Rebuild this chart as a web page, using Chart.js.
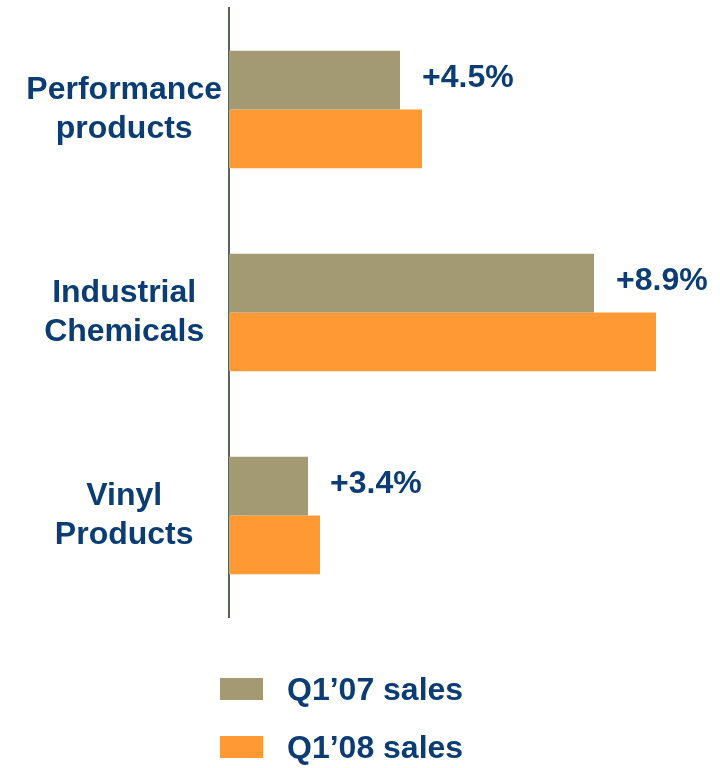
<!DOCTYPE html>
<html>
<head>
<meta charset="utf-8">
<script src="https://cdn.jsdelivr.net/npm/chart.js@4/dist/chart.umd.min.js"></script>
<style>
  html, body { margin: 0; padding: 0; background: #fff; }
  #wrap { width: 720px; height: 768px; }
</style>
</head>
<body>
<div id="wrap"><canvas id="myChart" width="720" height="768"></canvas></div>
<script>
// datos (unidades relativas, no hay eje visible)
const categorias = [['Performance', 'products'], ['Industrial', 'Chemicals'], ['Vinyl', 'Products']];
const ventasQ107 = [171, 365, 79];
const ventasQ108 = [193, 427, 91];
const crecimiento = ['+4.5%', '+8.9%', '+3.4%'];
const seriesNombres = ['Q1\u201907 sales', 'Q1\u201908 sales'];

const AZUL = '#0B3C74';
const OLIVA = '#A39972';
const NARANJA = '#FF9933';
const FUENTE = 'bold 32px "Liberation Sans", Arial, sans-serif';

// etiquetas de % junto a las barras Q1'07
const etiquetasPct = {
    id: 'etiquetasPct',
    afterDatasetsDraw(chart) {
        const ctx = chart.ctx;
        const meta = chart.getDatasetMeta(0);
        ctx.save();
        ctx.font = FUENTE;
        ctx.fillStyle = AZUL;
        ctx.textBaseline = 'middle';
        ctx.textAlign = 'left';
        meta.data.forEach((bar, i) => {
            ctx.fillText(crecimiento[i], bar.x + 22, bar.y - 2);
        });
        ctx.restore();
    }
};

// leyenda vertical abajo
const leyenda = {
    id: 'leyenda',
    afterDraw(chart) {
        const ctx = chart.ctx;
        const area = chart.chartArea;
        ctx.save();
        ctx.font = FUENTE;
        ctx.textBaseline = 'middle';
        ctx.textAlign = 'left';
        chart.data.datasets.forEach((ds, i) => {
            const y = area.bottom + 72 + i * 58;
            ctx.fillStyle = ds.backgroundColor;
            ctx.fillRect(area.left - 9, y - 11, 43, 22);
            ctx.fillStyle = AZUL;
            ctx.fillText(ds.label, area.left + 58, y + 2);
        });
        ctx.restore();
    }
};

const config = {
    type: 'bar',
    data: {
        labels: categorias,
        datasets: [
            { label: seriesNombres[0], data: ventasQ107, backgroundColor: OLIVA },
            { label: seriesNombres[1], data: ventasQ108, backgroundColor: NARANJA }
        ]
    },
    options: {
        indexAxis: 'y',
        responsive: false,
        animation: false,
        layout: { padding: { top: 8, bottom: 151, left: 0, right: 11 } },
        categoryPercentage: 0.58,
        barPercentage: 1.0,
        plugins: {
            legend: { display: false },
            tooltip: { enabled: false }
        },
        scales: {
            x: { display: false, min: 0, max: 480 },
            y: {
                afterFit(scale) {
                    scale.width = 229;
                    scale.paddingTop = 0;
                    scale.paddingBottom = 0;
                },
                grid: { display: false, drawTicks: false },
                border: { display: true, color: '#5A6450', width: 2 },
                ticks: {
                    crossAlign: 'center',
                    padding: 7,
                    color: AZUL,
                    font: { family: '"Liberation Sans", Arial, sans-serif', size: 32, weight: 'bold' }
                }
            }
        }
    },
    plugins: [etiquetasPct, leyenda]
};

const myChart = document.getElementById('myChart').getContext('2d');
new Chart(myChart, config);
</script>
</body>
</html>
